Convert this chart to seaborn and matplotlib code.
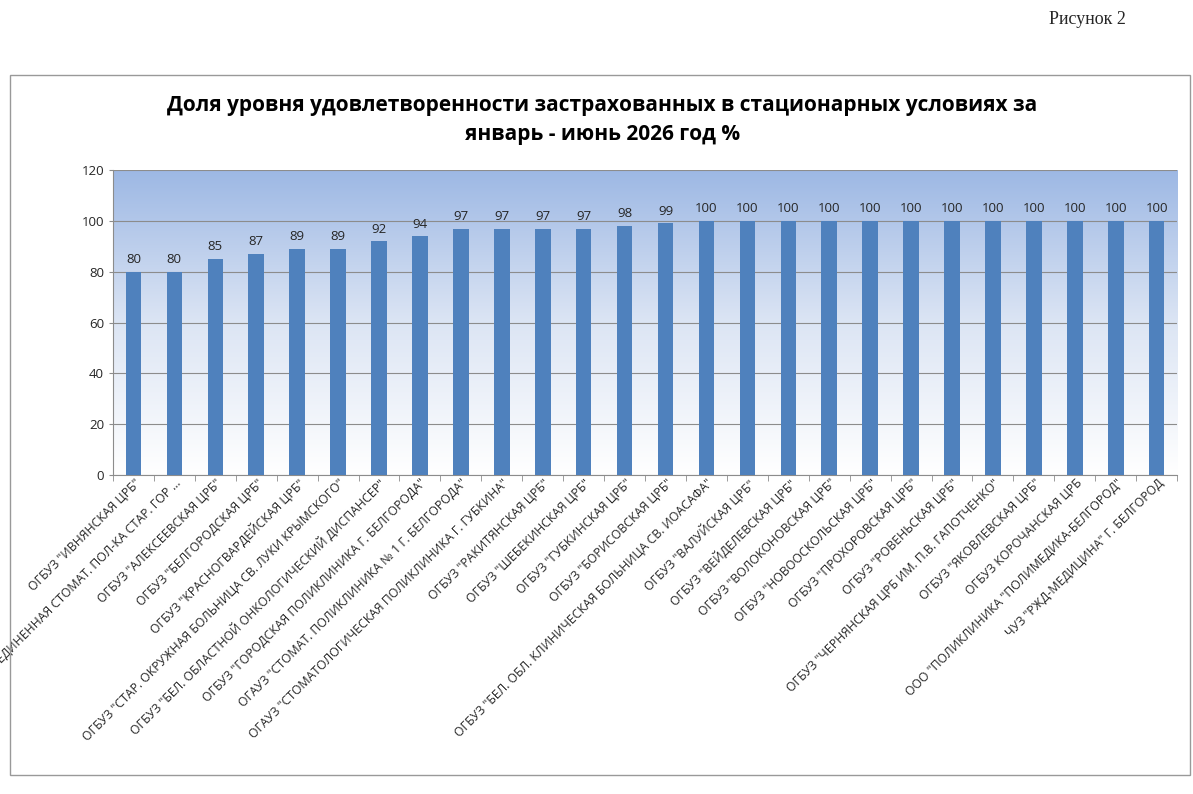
import numpy as np
import pandas as pd
import matplotlib
matplotlib.use('Agg')
import matplotlib.pyplot as plt
import seaborn as sns
from matplotlib.patches import Rectangle

labels = [
    'ОГБУЗ "ИВНЯНСКАЯ ЦРБ"',
    'ОГАУЗ "ОБЪЕДИНЕННАЯ СТОМАТ. ПОЛ-КА СТАР. ГОР ...',
    'ОГБУЗ "АЛЕКСЕЕВСКАЯ ЦРБ"',
    'ОГБУЗ "БЕЛГОРОДСКАЯ ЦРБ"',
    'ОГБУЗ "КРАСНОГВАРДЕЙСКАЯ ЦРБ"',
    'ОГБУЗ "СТАР. ОКРУЖНАЯ БОЛЬНИЦА СВ. ЛУКИ КРЫМСКОГО"',
    'ОГБУЗ "БЕЛ. ОБЛАСТНОЙ ОНКОЛОГИЧЕСКИЙ ДИСПАНСЕР"',
    'ОГБУЗ "ГОРОДСКАЯ ПОЛИКЛИНИКА Г. БЕЛГОРОДА"',
    'ОГАУЗ "СТОМАТ. ПОЛИКЛИНИКА № 1 Г. БЕЛГОРОДА"',
    'ОГАУЗ "СТОМАТОЛОГИЧЕСКАЯ ПОЛИКЛИНИКА Г. ГУБКИНА"',
    'ОГБУЗ "РАКИТЯНСКАЯ ЦРБ"',
    'ОГБУЗ "ШЕБЕКИНСКАЯ ЦРБ"',
    'ОГБУЗ "ГУБКИНСКАЯ ЦРБ"',
    'ОГБУЗ "БОРИСОВСКАЯ ЦРБ"',
    'ОГБУЗ "БЕЛ. ОБЛ. КЛИНИЧЕСКАЯ БОЛЬНИЦА СВ. ИОАСАФА"',
    'ОГБУЗ "ВАЛУЙСКАЯ ЦРБ"',
    'ОГБУЗ "ВЕЙДЕЛЕВСКАЯ ЦРБ"',
    'ОГБУЗ "ВОЛОКОНОВСКАЯ ЦРБ"',
    'ОГБУЗ "НОВООСКОЛЬСКАЯ ЦРБ"',
    'ОГБУЗ "ПРОХОРОВСКАЯ ЦРБ"',
    'ОГБУЗ "РОВЕНЬСКАЯ ЦРБ"',
    'ОГБУЗ "ЧЕРНЯНСКАЯ ЦРБ ИМ. П.В. ГАПОТЧЕНКО"',
    'ОГБУЗ "ЯКОВЛЕВСКАЯ ЦРБ"',
    'ОГБУЗ КОРОЧАНСКАЯ ЦРБ',
    'ООО "ПОЛИКЛИНИКА "ПОЛИМЕДИКА-БЕЛГОРОД"',
    'ЧУЗ "РЖД-МЕДИЦИНА" Г. БЕЛГОРОД',
]
values = [80, 80, 85, 87, 89, 89, 92, 94, 97, 97, 97, 97, 98, 99,
          100, 100, 100, 100, 100, 100, 100, 100, 100, 100, 100, 100]

df = pd.DataFrame({'org': labels, 'value': values})

sns.set_style('white')
plt.rcParams['font.family'] = ['Open Sans', 'DejaVu Sans']

fig = plt.figure(figsize=(11.93, 7.94), dpi=100)
fig.patches.append(Rectangle((10 / 1193, 1 - 775 / 794), 1180 / 1193, 700 / 794,
                             transform=fig.transFigure, fill=False,
                             edgecolor='#999999', linewidth=1))
fig.text(0.944, 0.975, 'Рисунок 2', family='Liberation Serif', fontsize=13,
         ha='right', va='center')
fig.text(0.505, 0.849, 'Доля уровня удовлетворенности застрахованных в стационарных условиях за\nянварь - июнь 2026 год %',
         ha='center', va='center', fontsize=15, fontweight='bold', linespacing=1.5,
         color='black')

ax = fig.add_axes([0.0947, 0.4018, 0.892, 0.384])
grad = np.linspace(1, 0, 256).reshape(-1, 1)
cmap = matplotlib.colors.LinearSegmentedColormap.from_list('bg', ['#ffffff', '#dce5f4', '#9db8e4'])
ax.imshow(grad, aspect='auto', cmap=cmap, extent=(-0.5, len(labels) - 0.5, 0, 120),
          zorder=0, origin='upper')

sns.barplot(data=df, x='org', y='value', color='#4f81bd', width=0.38,
            saturation=1, linewidth=0, ax=ax, zorder=3)
ax.set_xlim(-0.5, len(labels) - 0.5)
ax.set_ylim(0, 120)
ax.set_yticks(range(0, 121, 20))
ax.yaxis.grid(True, color='#8c8c8c', linewidth=0.8)
ax.set_axisbelow(False)
for gl in ax.get_ygridlines():
    gl.set_zorder(1)
ax.set_xlabel('')
ax.set_ylabel('')
for s in ['top', 'right']:
    ax.spines[s].set_visible(False)
ax.spines['left'].set_color('#8c8c8c')
ax.spines['bottom'].set_color('#8c8c8c')
ax.tick_params(axis='y', labelsize=9.5, length=3, color='#8c8c8c', left=True)
ax.tick_params(axis='x', labelsize=8.8, length=0, pad=1)
ax.set_xticks(np.arange(-0.5, len(labels), 1), minor=True)
ax.tick_params(axis='x', which='minor', length=4, color='#8c8c8c', bottom=True)
plt.setp(ax.get_xticklabels(), rotation=45, ha='right', rotation_mode='anchor')
for c in ax.containers:
    ax.bar_label(c, labels=[str(v) for v in values], padding=4, fontsize=9.5)

fig.savefig('out.png', dpi=100)
